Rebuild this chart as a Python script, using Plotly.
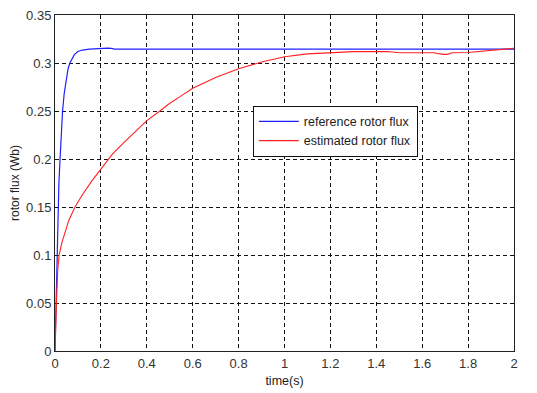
import plotly.graph_objects as go

# reference rotor flux
t_ref = [0, 0.003, 0.007, 0.012, 0.017, 0.022, 0.028, 0.033, 0.04, 0.048, 0.057, 0.065,
         0.075, 0.085, 0.1, 0.12, 0.15, 0.18, 0.2, 0.23, 0.245, 0.26, 0.5, 1.0, 1.5, 2.0]
flux_ref = [0, 0.03, 0.1, 0.14, 0.175, 0.2, 0.23, 0.25, 0.268, 0.283, 0.294, 0.3,
            0.305, 0.309, 0.312, 0.3135, 0.3145, 0.315, 0.3155, 0.3155, 0.3152, 0.3145, 0.3145, 0.3145, 0.3145, 0.3145]

# estimated rotor flux
t_est = [0, 0.003, 0.007, 0.012, 0.018, 0.03, 0.044, 0.06, 0.087, 0.12, 0.16, 0.2, 0.25,
         0.3, 0.35, 0.4, 0.457, 0.5, 0.545, 0.6, 0.7, 0.8, 0.9, 1.0, 1.1, 1.2, 1.3, 1.45,
         1.5, 1.65, 1.69, 1.71, 1.73, 1.8, 1.9, 2.0]
flux_est = [0, 0.03, 0.055, 0.085, 0.1, 0.113, 0.125, 0.136, 0.15, 0.163, 0.177, 0.19, 0.205,
            0.217, 0.229, 0.24, 0.25, 0.258, 0.265, 0.2736, 0.285, 0.294, 0.301, 0.3065, 0.3095, 0.311, 0.3118, 0.312,
            0.3106, 0.3106, 0.309, 0.309, 0.3106, 0.311, 0.3135, 0.3154]

x_ticks = [0, 0.2, 0.4, 0.6, 0.8, 1, 1.2, 1.4, 1.6, 1.8, 2]
x_tick_text = ["0", "0.2", "0.4", "0.6", "0.8", "1", "1.2", "1.4", "1.6", "1.8", "2"]
y_ticks = [0, 0.05, 0.1, 0.15, 0.2, 0.25, 0.3, 0.35]
y_tick_text = ["0", "0.05", "0.1", "0.15", "0.2", "0.25", "0.3", "0.35"]

FONT = "Liberation Sans, Arial"

fig = go.Figure()
fig.add_trace(go.Scatter(x=t_ref, y=flux_ref, mode="lines", name="reference rotor flux",
                         line=dict(color="#2020ff", width=1.2)))
fig.add_trace(go.Scatter(x=t_est, y=flux_est, mode="lines", name="estimated rotor flux",
                         line=dict(color="#ff2020", width=1.1)))

axis_common = dict(showline=True, linecolor="#222", linewidth=1, mirror=True,
                   showgrid=True, gridcolor="#111", gridwidth=1, griddash="4px,3px",
                   zeroline=False, ticks="", automargin=False, ticklabeloverflow="allow",
                   tickfont=dict(family=FONT, size=13, color="#333"))

fig.update_layout(
    width=529, height=385,
    margin=dict(l=47, r=23, t=7, b=42),
    paper_bgcolor="white", plot_bgcolor="white",
    showlegend=True,
    legend=dict(x=0.431, y=0.73, xanchor="left", yanchor="top",
                bgcolor="white", bordercolor="#111", borderwidth=1,
                font=dict(family=FONT, size=12.5, color="#222"),
                tracegroupgap=0, itemwidth=40),
    xaxis=dict(range=[0, 2], tickvals=x_ticks, ticktext=x_tick_text,
               title=dict(text="time(s)", font=dict(family=FONT, size=12.5, color="#222"), standoff=6),
               **axis_common),
    yaxis=dict(range=[0, 0.35], tickvals=y_ticks, ticktext=y_tick_text,
               title=dict(text="rotor flux (Wb)", font=dict(family=FONT, size=12, color="#222"), standoff=16),
               **axis_common),
)

fig.write_html("out.html")
